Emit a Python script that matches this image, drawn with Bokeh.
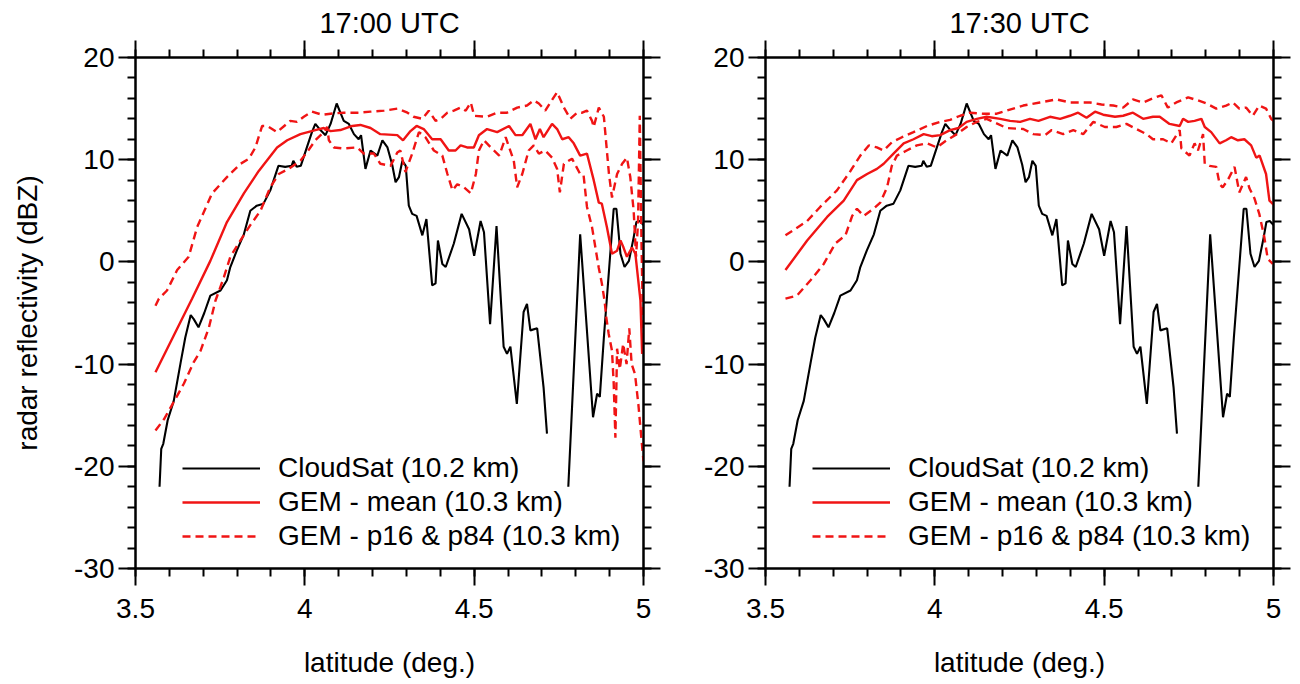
import numpy as np
from bokeh.plotting import figure
from bokeh.layouts import row
from bokeh.models import (LinearAxis, FixedTicker, CustomJSTickFormatter, Legend, LegendItem, Range1d,
                          CustomLabelingPolicy)
from bokeh.embed import file_html
from bokeh.resources import INLINE

nan = float("nan")

# ---------------- data ----------------
cs_lat = [3.571, 3.576, 3.582, 3.595, 3.613, 3.633, 3.647, 3.663, 3.672, 3.686, 3.703, 3.721, 3.751, 3.770,
          3.780, 3.799, 3.820, 3.839, 3.858, 3.878, 3.898, 3.922, 3.942, 3.961, 3.966, 3.976, 3.988, 4.006,
          4.021, 4.031, 4.046, 4.061, 4.076, 4.094, 4.105, 4.115, 4.130, 4.145, 4.159, 4.166, 4.179, 4.194,
          4.214, 4.229, 4.244, 4.258, 4.268, 4.278, 4.288, 4.298, 4.307, 4.317, 4.330, 4.347, 4.359, 4.376,
          4.386, 4.393, 4.406, 4.416, 4.440, 4.463, 4.485, 4.500, 4.519, 4.529, 4.547, 4.566, 4.587, 4.597,
          4.607, 4.626, 4.646, 4.656, 4.666, 4.686, 4.705, 4.715, 4.745, 4.778, 4.813, 4.851, 4.863, 4.871,
          4.883, 4.912, 4.920, 4.932, 4.944, 4.957, 4.971, 4.979, 4.989, 5.000]
cs_dbz = [-22.0, -18.3, -17.8, -15.5, -13.6, -9.9, -7.4, -5.2, -5.6, -6.4, -5.0, -3.3, -2.8, -1.8,
          -0.5, 1.1, 2.7, 5.0, 5.5, 5.7, 7.0, 9.4, 9.3, 9.4, 9.9, 9.3, 9.4, 11.2,
          12.7, 13.5, 12.9, 12.4, 13.5, 15.5, 14.6, 13.8, 13.5, 12.5, 12.0, 12.4, 9.1, 10.9,
          10.4, 11.9, 11.2, 9.5, 7.8, 8.3, 9.9, 9.4, 5.5, 4.7, 4.5, 2.6, 4.2, -2.3,
          -2.1, 2.1, -0.2, -0.5, 1.8, 4.7, 3.2, 0.6, 4.0, 2.9, -6.1, 3.5, -8.3, -9.0,
          -8.3, -13.9, -4.9, -4.1, -6.7, -6.5, -12.3, -16.8, nan, -22.0, 2.7, -15.2, -12.9, -13.2,
          -7.4, 5.2, 5.2, 0.8, -0.5, 0.1, 2.4, 3.9, 4.0, 3.6]

# 17:00 UTC GEM
m1_lat = [3.559, 3.613, 3.667, 3.721, 3.770, 3.820, 3.864, 3.918, 3.948, 3.987, 4.031, 4.056, 4.076, 4.105,
          4.140, 4.164, 4.194, 4.223, 4.273, 4.290, 4.312, 4.330, 4.351, 4.376, 4.401, 4.425, 4.445, 4.460,
          4.479, 4.499, 4.514, 4.538, 4.568, 4.603, 4.622, 4.642, 4.666, 4.681, 4.694, 4.705, 4.730, 4.745,
          4.760, 4.779, 4.794, 4.813, 4.833, 4.853, 4.868, 4.877, 4.892, 4.907, 4.922, 4.932, 4.941, 4.951,
          4.966, 4.976, 4.991, 4.996]
m1_dbz = [-10.8, -7.2, -3.6, 0.1, 3.9, 6.7, 8.9, 11.2, 11.9, 12.5, 12.9, 13.1, 12.8, 12.9,
          13.3, 13.4, 13.1, 12.5, 12.4, 11.9, 12.8, 13.3, 13.0, 12.0, 12.0, 10.9, 10.9, 11.4,
          11.2, 11.2, 12.4, 13.0, 12.7, 13.3, 12.4, 12.4, 13.5, 12.0, 13.0, 12.2, 13.5, 13.0,
          12.0, 12.2, 11.6, 10.4, 10.6, 8.0, 5.8, 5.7, 3.4, 0.8, 1.1, 2.1, 1.4, 0.5,
          1.4, 0.8, -3.8, -9.0]
h1_lat = [3.559, 3.569, 3.593, 3.623, 3.657, 3.682, 3.726, 3.770, 3.810, 3.835, 3.854, 3.874, 3.889, 3.918,
          3.957, 3.977, 3.997, 4.021, 4.051, 4.076, 4.115, 4.155, 4.194, 4.234, 4.273, 4.303, 4.321, 4.347,
          4.366, 4.386, 4.401, 4.421, 4.440, 4.460, 4.475, 4.490, 4.500, 4.538, 4.568, 4.597, 4.627, 4.656,
          4.676, 4.691, 4.710, 4.725, 4.745, 4.765, 4.784, 4.804, 4.819, 4.833, 4.848, 4.853, 4.868, 4.883,
          4.898, 4.907, 4.922, 4.937, 4.951, 4.961, 4.971, 4.978, 4.984, 4.989, 4.994, 5.000]
h1_dbz = [-4.3, -3.6, -2.8, -0.8, 0.5, 3.4, 6.7, 8.3, 9.6, 10.1, 11.2, 13.3, 13.3, 12.7,
          13.8, 13.7, 14.2, 14.7, 14.4, 14.5, 14.6, 14.6, 14.7, 14.8, 15.0, 14.6, 14.2, 14.0,
          14.8, 13.8, 14.0, 14.6, 14.8, 15.1, 14.8, 15.6, 14.3, 14.2, 14.6, 14.6, 15.1, 15.3,
          15.8, 15.5, 14.8, 15.6, 16.6, 15.1, 14.0, 14.6, 14.6, 14.8, 13.8, 13.2, 15.1, 14.2,
          8.6, 6.3, 8.6, 9.6, 10.2, 8.3, 5.0, 0.5, 4.0, 14.3, 2.0, -9.0]
l1_lat = [3.559, 3.584, 3.613, 3.643, 3.672, 3.692, 3.717, 3.736, 3.761, 3.780, 3.810, 3.839, 3.869, 3.898,
          3.923, 3.952, 3.987, 4.006, 4.031, 4.056, 4.066, 4.071, 4.086, 4.115, 4.155, 4.174, 4.204, 4.223,
          4.253, 4.273, 4.282, 4.297, 4.317, 4.337, 4.356, 4.381, 4.406, 4.421, 4.436, 4.450, 4.470, 4.490,
          4.505, 4.514, 4.529, 4.549, 4.574, 4.593, 4.617, 4.627, 4.642, 4.661, 4.676, 4.691, 4.710, 4.730,
          4.745, 4.753, 4.765, 4.789, 4.813, 4.823, 4.833, 4.848, 4.858, 4.868, 4.877, 4.885, 4.890, 4.897,
          4.907, 4.912, 4.917, 4.922, 4.930, 4.940, 4.950, 4.958, 4.965, 4.975, 4.985, 4.993, 5.000]
l1_dbz = [-16.5, -15.4, -13.7, -11.9, -9.8, -8.7, -6.4, -3.8, -1.5, 0.5, 2.1, 3.6, 5.0, 7.3,
          8.6, 9.1, 9.9, 10.7, 11.9, 12.7, 13.2, 11.9, 11.2, 11.1, 11.2, 10.6, 10.6, 9.6,
          9.4, 10.7, 10.9, 8.8, 10.6, 12.7, 12.2, 10.9, 10.4, 8.6, 7.0, 7.6, 7.3, 6.7,
          8.6, 10.9, 11.9, 11.2, 10.4, 12.2, 9.9, 7.3, 8.6, 10.9, 11.4, 10.6, 10.9, 10.2,
          9.1, 6.8, 9.6, 10.1, 8.6, 8.5, 5.4, 3.4, 1.4, -0.6, -2.1, -3.8, -5.4, -7.0,
          -8.7, -11.9, -17.2, -8.5, -10.5, -8.0, -10.0, -6.5, -10.0, -11.0, -14.0, -17.0, -19.5]

# 17:30 UTC GEM
m2_lat = [3.559, 3.623, 3.682, 3.731, 3.770, 3.800, 3.829, 3.849, 3.878, 3.908, 3.937, 3.967, 3.991, 4.016,
          4.045, 4.070, 4.094, 4.124, 4.153, 4.193, 4.222, 4.252, 4.281, 4.306, 4.340, 4.370, 4.399, 4.423,
          4.448, 4.473, 4.497, 4.532, 4.556, 4.585, 4.615, 4.644, 4.664, 4.693, 4.723, 4.733, 4.748, 4.767,
          4.787, 4.797, 4.816, 4.841, 4.860, 4.875, 4.895, 4.914, 4.934, 4.949, 4.959, 4.978, 4.988, 5.000]
m2_dbz = [-0.8, 2.1, 4.4, 6.0, 8.0, 8.6, 9.1, 9.6, 10.6, 11.6, 12.0, 12.5, 12.3, 12.4,
          12.9, 13.1, 13.7, 14.0, 14.2, 14.0, 13.8, 13.7, 14.0, 13.8, 14.2, 14.0, 14.3, 14.6,
          14.1, 14.7, 14.4, 14.2, 14.3, 14.6, 14.0, 14.2, 14.2, 13.5, 13.3, 14.0, 13.7, 13.8,
          14.0, 13.2, 12.7, 11.6, 11.9, 12.2, 11.9, 12.0, 11.4, 10.2, 10.4, 8.6, 6.0, 5.6]
h2_lat = [3.559, 3.623, 3.662, 3.711, 3.751, 3.780, 3.805, 3.829, 3.849, 3.873, 3.903, 3.937, 3.977, 4.016,
          4.045, 4.075, 4.104, 4.143, 4.183, 4.212, 4.261, 4.310, 4.359, 4.399, 4.428, 4.458, 4.492, 4.527,
          4.556, 4.585, 4.615, 4.644, 4.669, 4.688, 4.713, 4.748, 4.777, 4.802, 4.831, 4.860, 4.880, 4.899,
          4.919, 4.939, 4.958, 4.978, 4.993, 5.000]
h2_dbz = [2.6, 4.0, 5.4, 7.0, 8.9, 10.4, 11.4, 11.2, 10.9, 11.7, 12.2, 12.7, 13.3, 13.7,
          13.9, 14.3, 14.6, 14.5, 14.5, 14.8, 15.3, 15.6, 15.9, 15.6, 15.6, 15.6, 15.4, 15.3,
          15.1, 15.9, 15.6, 16.0, 16.3, 15.1, 15.6, 16.1, 15.8, 15.5, 15.0, 15.3, 15.6, 15.0,
          15.1, 14.3, 15.3, 15.0, 14.0, 13.8]
l2_lat = [3.559, 3.593, 3.633, 3.672, 3.706, 3.736, 3.756, 3.770, 3.790, 3.819, 3.839, 3.859, 3.873, 3.888,
          3.917, 3.947, 3.977, 4.006, 4.035, 4.065, 4.094, 4.124, 4.153, 4.212, 4.261, 4.291, 4.325, 4.345,
          4.379, 4.409, 4.438, 4.468, 4.502, 4.536, 4.566, 4.595, 4.625, 4.644, 4.674, 4.698, 4.723, 4.728,
          4.752, 4.767, 4.777, 4.792, 4.797, 4.811, 4.831, 4.841, 4.850, 4.865, 4.885, 4.899, 4.919, 4.929,
          4.944, 4.958, 4.973, 4.983, 4.998]
l2_dbz = [-3.6, -3.3, -1.8, -0.2, 1.8, 2.6, 4.5, 5.2, 4.5, 5.2, 5.8, 7.3, 9.4, 10.4,
          10.9, 11.4, 11.6, 11.2, 11.9, 12.5, 13.2, 13.7, 14.0, 13.1, 13.0, 12.5, 12.4, 12.9,
          12.5, 12.9, 12.5, 13.7, 13.2, 13.2, 13.5, 13.0, 12.5, 12.0, 12.0, 11.6, 12.9, 11.1,
          10.4, 11.6, 10.9, 12.5, 9.6, 9.4, 9.3, 7.6, 7.3, 8.0, 9.3, 6.8, 8.3, 7.2,
          6.2, 4.7, 2.4, 0.3, -0.2]

titles = ["17:00 UTC", "17:30 UTC"]
legend_labels = ["CloudSat (10.2 km)", "GEM - mean (10.3 km)", "GEM - p16 & p84 (10.3 km)"]
x_major = [3.5, 4.0, 4.5, 5.0]
y_major = [-30, -20, -10, 0, 10, 20]

FONT = "Liberation Sans"
RED = "#f01414"

TOP = 57
FRAME_H = 511
BOTTOM = 112


def make_panel(title, mean, hi, lo, left_border, right_border, ylabel):
    width = left_border + 508 + right_border
    p = figure(width=width, height=TOP + FRAME_H + BOTTOM, output_backend="svg", toolbar_location=None,
               x_range=Range1d(3.5, 5.0), y_range=Range1d(-30, 20),
               x_axis_location=None, y_axis_location=None,
               min_border_left=left_border, min_border_right=right_border,
               min_border_top=TOP, min_border_bottom=BOTTOM)
    p.title.text = title
    p.title.align = "center"
    p.title.text_font = FONT
    p.title.text_font_size = "29px"
    p.title.text_font_style = "normal"
    p.title.text_color = "black"
    p.title.standoff = 3
    p.title.offset = 0
    p.grid.visible = False
    p.outline_line_color = "black"
    p.outline_line_width = 2
    p.background_fill_color = None
    p.border_fill_color = None

    fmt = CustomJSTickFormatter(code="return tick.toString()")
    xt = FixedTicker(ticks=x_major, minor_ticks=[round(3.5 + 0.1 * i, 2) for i in range(16)])
    yt = FixedTicker(ticks=y_major, minor_ticks=list(range(-30, 21, 2)))
    no_labels = CustomLabelingPolicy(code="""
        const n = indices.size;
        for (let i = 0; i < n; i++) { indices.unset(i) }
        return indices
    """)

    def style(ax, labels):
        ax.axis_line_width = 2
        ax.axis_line_color = "black"
        ax.major_tick_line_color = "black"
        ax.minor_tick_line_color = "black"
        ax.major_tick_line_width = 2
        ax.minor_tick_line_width = 2
        ax.major_tick_in = 0
        ax.minor_tick_in = 0
        ax.major_tick_out = 17
        ax.minor_tick_out = 8
        ax.major_label_text_font = FONT
        ax.major_label_text_color = "black"
        if labels:
            ax.major_label_text_font_size = "28px"
        else:
            ax.major_label_policy = no_labels
            ax.major_label_text_font_size = "0px"
            ax.major_label_standoff = 0
        ax.axis_label_text_font = FONT
        ax.axis_label_text_font_size = "28px"
        ax.axis_label_text_font_style = "normal"
        ax.axis_label_text_color = "black"

    xb = LinearAxis(ticker=xt, formatter=fmt, axis_label="latitude (deg.)")
    style(xb, True)
    xb.major_label_standoff = 13
    xb.axis_label_standoff = 26
    p.add_layout(xb, "below")
    xa = LinearAxis(ticker=xt, formatter=fmt)
    style(xa, False)
    p.add_layout(xa, "above")
    yl = LinearAxis(ticker=yt, formatter=fmt, axis_label=ylabel)
    style(yl, True)
    yl.major_label_standoff = 4
    yl.axis_label_standoff = 28
    p.add_layout(yl, "left")
    yr = LinearAxis(ticker=yt, formatter=fmt)
    style(yr, False)
    p.add_layout(yr, "right")

    r_cs = p.line(cs_lat, cs_dbz, line_color="black", line_width=2.1)
    r_m = p.line(mean[0], mean[1], line_color=RED, line_width=2.4)
    r_h = p.line(hi[0], hi[1], line_color=RED, line_width=2.4, line_dash="8 5")
    p.line(lo[0], lo[1], line_color=RED, line_width=2.4, line_dash="8 5")

    leg = Legend(items=[LegendItem(label=legend_labels[0], renderers=[r_cs]),
                        LegendItem(label=legend_labels[1], renderers=[r_m]),
                        LegendItem(label=legend_labels[2], renderers=[r_h])],
                 location=(47, 16), orientation="vertical",
                 glyph_width=78, glyph_height=30, label_height=30, spacing=2,
                 label_standoff=18, padding=0, margin=0,
                 border_line_color=None, background_fill_color=None, background_fill_alpha=0,
                 label_text_font=FONT, label_text_font_size="28px", label_text_color="black")
    p.add_layout(leg, "center")
    return p


p1 = make_panel(titles[0], (m1_lat, m1_dbz), (h1_lat, h1_dbz), (l1_lat, l1_dbz), 135, 30,
                "radar reflectivity (dBZ)")
p2 = make_panel(titles[1], (m2_lat, m2_dbz), (h2_lat, h2_dbz), (l2_lat, l2_dbz), 92, 26, None)

layout = row(p1, p2)
open("out.html", "w").write(file_html(layout, INLINE))
